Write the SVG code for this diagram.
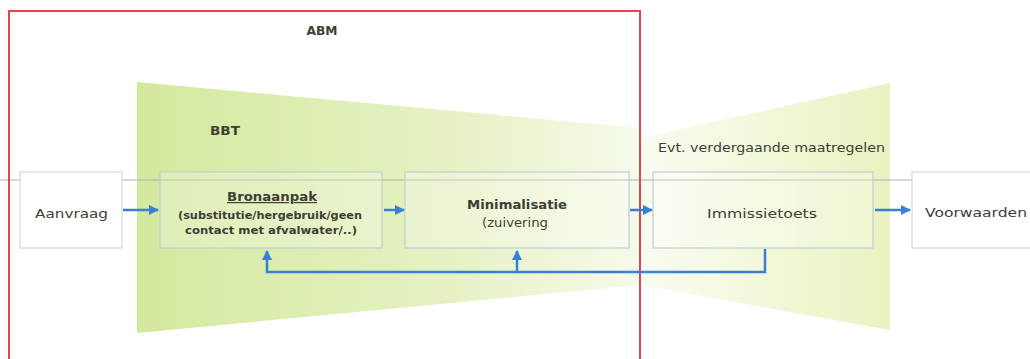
<svg xmlns="http://www.w3.org/2000/svg" width="1030" height="359" viewBox="0 0 1030 359">
<defs>
<linearGradient id="gl" x1="0" y1="0" x2="1" y2="0">
<stop offset="0" stop-color="#d3e99d"/>
<stop offset="0.65" stop-color="#e7f2c6"/>
<stop offset="1" stop-color="#f6faea"/>
</linearGradient>
<linearGradient id="gr" x1="0" y1="0" x2="1" y2="0">
<stop offset="0" stop-color="#fafcf2"/>
<stop offset="1" stop-color="#e9f3c0"/>
</linearGradient>
<marker id="ah" viewBox="0 0 10 10" refX="9" refY="5" markerWidth="4" markerHeight="4" orient="auto" markerUnits="strokeWidth">
<path d="M0,0 L10,5 L0,10 z" fill="#3a7ed6"/>
</marker>
<style>
.box{fill:#ffffff;fill-opacity:0.25;stroke:#bfcdd8;stroke-width:1.2}
.wbox{fill:#ffffff;stroke:#d0dae2;stroke-width:1.2}
.t{font-family:"DejaVu Sans",Verdana,sans-serif;fill:#3e3e36}
.b{font-weight:bold}
.c{stroke:#3a7ed6;stroke-width:2.5;fill:none}
</style>
</defs>
<rect width="1030" height="359" fill="#ffffff"/>
<g id="bands">
<polygon points="137,82 640,128 640,285 137,333" fill="url(#gl)"/>
<polygon points="640,138 890,83 890,330 640,285" fill="url(#gr)"/>
</g>
<line x1="0" y1="180" x2="1030" y2="180" stroke="#a9b0b0" stroke-width="1"/>
<g id="abm">
<rect x="9" y="11" width="631" height="360" fill="none" stroke="#e04652" stroke-width="2"/>
<text class="t b" x="322" y="35" font-size="12" text-anchor="middle" textLength="31" lengthAdjust="spacingAndGlyphs">ABM</text>
</g>
<text id="bbt" class="t b" x="210" y="135" font-size="13" textLength="30" lengthAdjust="spacingAndGlyphs">BBT</text>
<text id="evt" class="t" x="658" y="152" font-size="12.5" textLength="227" lengthAdjust="spacingAndGlyphs">Evt. verdergaande maatregelen</text>
<g id="aanvraag">
<rect class="wbox" x="20" y="172" width="102" height="76"/>
<text class="t" x="35" y="218" font-size="13" textLength="73" lengthAdjust="spacingAndGlyphs">Aanvraag</text>
</g>
<g id="bronaanpak">
<rect class="box" x="160" y="172" width="222" height="76"/>
<text class="t b" x="272" y="201" font-size="12" text-anchor="middle" textLength="90" lengthAdjust="spacingAndGlyphs" text-decoration="underline">Bronaanpak</text>
<text class="t b" x="270" y="219" font-size="10.5" text-anchor="middle" textLength="184" lengthAdjust="spacingAndGlyphs">(substitutie/hergebruik/geen</text>
<text class="t b" x="271" y="234" font-size="10.5" text-anchor="middle" textLength="172" lengthAdjust="spacingAndGlyphs">contact met afvalwater/..)</text>
</g>
<g id="minimalisatie">
<rect class="box" x="405" y="172" width="224" height="76" fill-opacity="0.45"/>
<text class="t b" x="517" y="209" font-size="13" text-anchor="middle" textLength="100" lengthAdjust="spacingAndGlyphs">Minimalisatie</text>
<text class="t" x="515" y="227" font-size="12" text-anchor="middle" textLength="66" lengthAdjust="spacingAndGlyphs">(zuivering</text>
</g>
<g id="immissietoets">
<rect class="box" x="653" y="172" width="220" height="76" fill-opacity="0.45"/>
<text class="t" x="762" y="218" font-size="13" text-anchor="middle" textLength="110" lengthAdjust="spacingAndGlyphs">Immissietoets</text>
</g>
<g id="voorwaarden">
<rect class="wbox" x="912" y="172" width="130" height="76"/>
<text class="t" x="925" y="217" font-size="13" textLength="102" lengthAdjust="spacingAndGlyphs">Voorwaarden</text>
</g>
<g id="connectors">
<line class="c" x1="123" y1="210" x2="158" y2="210" marker-end="url(#ah)"/>
<line class="c" x1="384" y1="210" x2="404" y2="210" marker-end="url(#ah)"/>
<line class="c" x1="630" y1="210" x2="652" y2="210" marker-end="url(#ah)"/>
<line class="c" x1="875" y1="210" x2="910" y2="210" marker-end="url(#ah)"/>
<polyline class="c" points="765,249 765,272 267,272 267,251" marker-end="url(#ah)"/>
<line class="c" x1="517" y1="272" x2="517" y2="251" marker-end="url(#ah)"/>
</g>
</svg>
